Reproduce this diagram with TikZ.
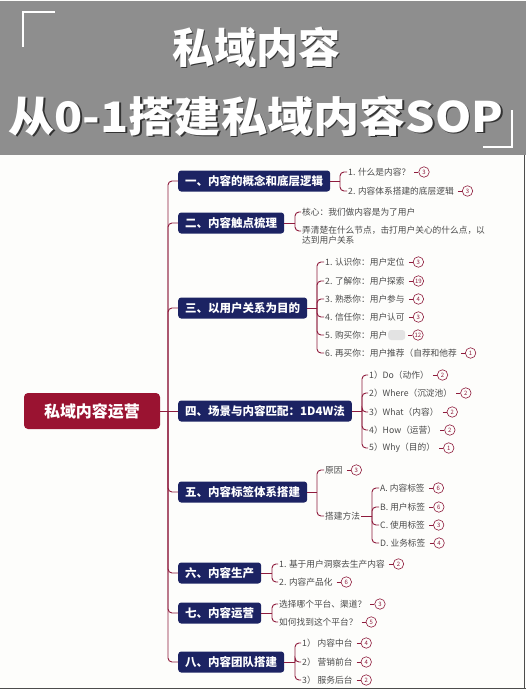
\documentclass[tikz,border=0pt]{standalone}
\usepackage{fontspec}
\setmainfont{Noto Sans CJK SC}
\usetikzlibrary{positioning}

\definecolor{maroon}{HTML}{8E1B3C}
\definecolor{navy}{HTML}{1C2363}
\definecolor{rootred}{HTML}{9A1331}
\definecolor{headgray}{HTML}{8E8E8E}
\definecolor{leafgray}{HTML}{4A4A4A}
\definecolor{paper}{HTML}{FDFDFB}

\tikzset{
  title/.style={text=white, font=\bfseries\fontsize{42}{42}\selectfont, inner sep=0pt},
  rootbox/.style={fill=rootred, text=white, font=\bfseries\fontsize{16}{18}\selectfont,
    rounded corners=4pt, minimum width=136pt, minimum height=36pt},
  cat/.style={fill=navy, text=white, font=\bfseries\fontsize{11.5}{13}\selectfont,
    rounded corners=3pt, minimum height=21pt, inner xsep=7pt, anchor=west},
  leaf/.style={text=leafgray, font=\fontsize{8.7}{10}\selectfont, inner xsep=1pt,
    inner ysep=1pt, anchor=west},
  badge/.style={circle, draw=maroon, text=maroon, font=\fontsize{6}{6}\selectfont,
    inner sep=0pt, minimum size=10.5pt, line width=0.6pt},
  branch/.style={draw=maroon, line width=0.9pt, rounded corners=4pt},
  link/.style={draw=maroon, line width=0.8pt, shorten <=3pt},
  blur/.style={fill=gray!22, rounded corners=3pt, minimum width=17pt, minimum height=10pt,
    inner sep=0pt},
}

\begin{document}
\begin{tikzpicture}[x=1pt,y=-1pt]
  \useasboundingbox (0,0) rectangle (526,689);
  \fill[paper] (0,0) rectangle (526,689);
  \draw[black!70, line width=1.5pt] (524.5,155) -- (524.5,689);
  \draw[black!70, line width=1.5pt] (0,688.5) -- (526,688.5);

  % header
  \fill[headgray] (0,1) rectangle (526,155);
  \draw[white, line width=2pt] (55,12) -- (23,12) -- (23,47);
  \draw[white, line width=2pt] (512,110) -- (512,147) -- (483,147);
  \node[title, text=black!80] (t1s) at (257.5,48.5) {私域内容};
  \node[title] (t1) at (256,47) {私域内容};
  \node[title, text=black!80, xscale=1.1, transform shape] (t2s) at (257.5,117.5)
    {从0-1搭建私域内容SOP};
  \node[title, xscale=1.1, transform shape] (t2) at (256,116) {从0-1搭建私域内容SOP};

  % root and main branches
  \node[rootbox] (root) at (92,411) {私域内容运营};
  \foreach \k/\t/\y in {1/一、内容的概念和底层逻辑/181, 2/二、内容触点梳理/223,
      3/三、以用户关系为目的/308, 4/四、场景与内容匹配：1D4W法/411,
      5/五、内容标签体系搭建/492, 6/六、内容生产/573, 7/七、内容运营/613,
      8/八、内容团队搭建/662}
    \node[cat] (n\k) at (178,\y) {\t};
  \coordinate (trunk) at (168,411);
  \draw[branch] (root) -- (n4);
  \foreach \k in {1,2,3,5,6,7,8}
    \draw[branch] (trunk) |- (n\k.west);

  % 一
  \coordinate (k1) at (340,181);
  \draw[branch] (n1.east) -- (k1);
  \foreach \i/\t/\n/\y in {1/{1. 什么是内容？}/3/172, 2/{2. 内容体系搭建的底层逻辑}/3/191}
  {
    \node[leaf] (c1\i) at (347,\y) {\t};
    \node[badge, right=7pt of c1\i] (b1\i) {\n};
    \draw[branch] (k1) |- (c1\i.west);
    \draw[link] (c1\i) -- (b1\i);
  }

  % 二
  \coordinate (k2) at (295,223);
  \draw[branch] (n2.east) -- (k2);
  \node[leaf] (c21) at (301,212) {核心：我们做内容是为了用户};
  \node[leaf, anchor=north west, align=left] (c22) at (301,225)
    {弄清楚在什么节点，击打用户关心的什么点，以\\达到用户关系};
  \draw[branch] (k2) |- (c21.west);
  \draw[branch] (k2) |- ([yshift=-6pt]c22.north west);

  % 三
  \coordinate (k3) at (317,308);
  \draw[branch] (n3.east) -- (k3);
  \foreach \i/\t/\n/\y in {1/{1. 认识你：用户定位}/3/262, 2/{2. 了解你：用户探索}/19/281,
      3/{3. 熟悉你：用户参与}/4/299, 4/{4. 信任你：用户认可}/3/317,
      5/{5. 购买你：用户\rule{17pt}{0pt}}/12/335, 6/{6. 再买你：用户推荐（自荐和他荐}/1/353}
  {
    \node[leaf] (c3\i) at (324,\y) {\t};
    \node[badge, right=7pt of c3\i] (b3\i) {\n};
    \draw[branch] (k3) |- (c3\i.west);
    \draw[link] (c3\i) -- (b3\i);
  }
  \node[blur, anchor=east] (blur35) at (c35.east) {};

  % 四
  \coordinate (k4) at (362,411);
  \draw[branch] (n4.east) -- (k4);
  \foreach \i/\t/\n/\y in {1/{1）Do（动作）}/2/375, 2/{2）Where（沉淀池）}/2/393,
      3/{3）What（内容）}/2/412, 4/{4）How（运营）}/2/430, 5/{5）Why（目的）}/1/448}
  {
    \node[leaf] (c4\i) at (368,\y) {\t};
    \node[badge, right=7pt of c4\i] (b4\i) {\n};
    \draw[branch] (k4) |- (c4\i.west);
    \draw[link] (c4\i) -- (b4\i);
  }

  % 五
  \coordinate (k5) at (317,492);
  \draw[branch] (n5.east) -- (k5);
  \node[leaf] (c51) at (324,470) {原因};
  \node[badge, right=7pt of c51] (b51) {3};
  \node[leaf] (c52) at (324,516) {搭建方法};
  \draw[branch] (k5) |- (c51.west);
  \draw[branch] (k5) |- (c52.west);
  \draw[link] (c51) -- (b51);
  \coordinate (k52) at (372,516);
  \draw[branch] (c52.east) -- (k52);
  \foreach \i/\t/\n/\y in {1/{A. 内容标签}/6/488, 2/{B. 用户标签}/6/507,
      3/{C. 使用标签}/3/525, 4/{D. 业务标签}/4/543}
  {
    \node[leaf] (c52\i) at (379,\y) {\t};
    \node[badge, right=7pt of c52\i] (b52\i) {\n};
    \draw[branch] (k52) |- (c52\i.west);
    \draw[link] (c52\i) -- (b52\i);
  }

  % 六
  \coordinate (k6) at (272,573);
  \draw[branch] (n6.east) -- (k6);
  \foreach \i/\t/\n/\y in {1/{1. 基于用户洞察去生产内容}/2/564, 2/{2. 内容产品化}/6/582}
  {
    \node[leaf] (c6\i) at (278,\y) {\t};
    \node[badge, right=7pt of c6\i] (b6\i) {\n};
    \draw[branch] (k6) |- (c6\i.west);
    \draw[link] (c6\i) -- (b6\i);
  }

  % 七
  \coordinate (k7) at (272,613);
  \draw[branch] (n7.east) -- (k7);
  \foreach \i/\t/\n/\y in {1/{选择哪个平台、渠道？}/3/604, 2/{如何找到这个平台？}/5/622}
  {
    \node[leaf] (c7\i) at (278,\y) {\t};
    \node[badge, right=7pt of c7\i] (b7\i) {\n};
    \draw[branch] (k7) |- (c7\i.west);
    \draw[link] (c7\i) -- (b7\i);
  }

  % 八
  \coordinate (k8) at (295,662);
  \draw[branch] (n8.east) -- (k8);
  \foreach \i/\t/\n/\y in {1/{1） 内容中台}/4/643, 2/{2） 营销前台}/4/662, 3/{3） 服务后台}/2/680}
  {
    \node[leaf] (c8\i) at (301,\y) {\t};
    \node[badge, right=7pt of c8\i] (b8\i) {\n};
    \draw[branch] (k8) |- (c8\i.west);
    \draw[link] (c8\i) -- (b8\i);
  }
\end{tikzpicture}
\end{document}
